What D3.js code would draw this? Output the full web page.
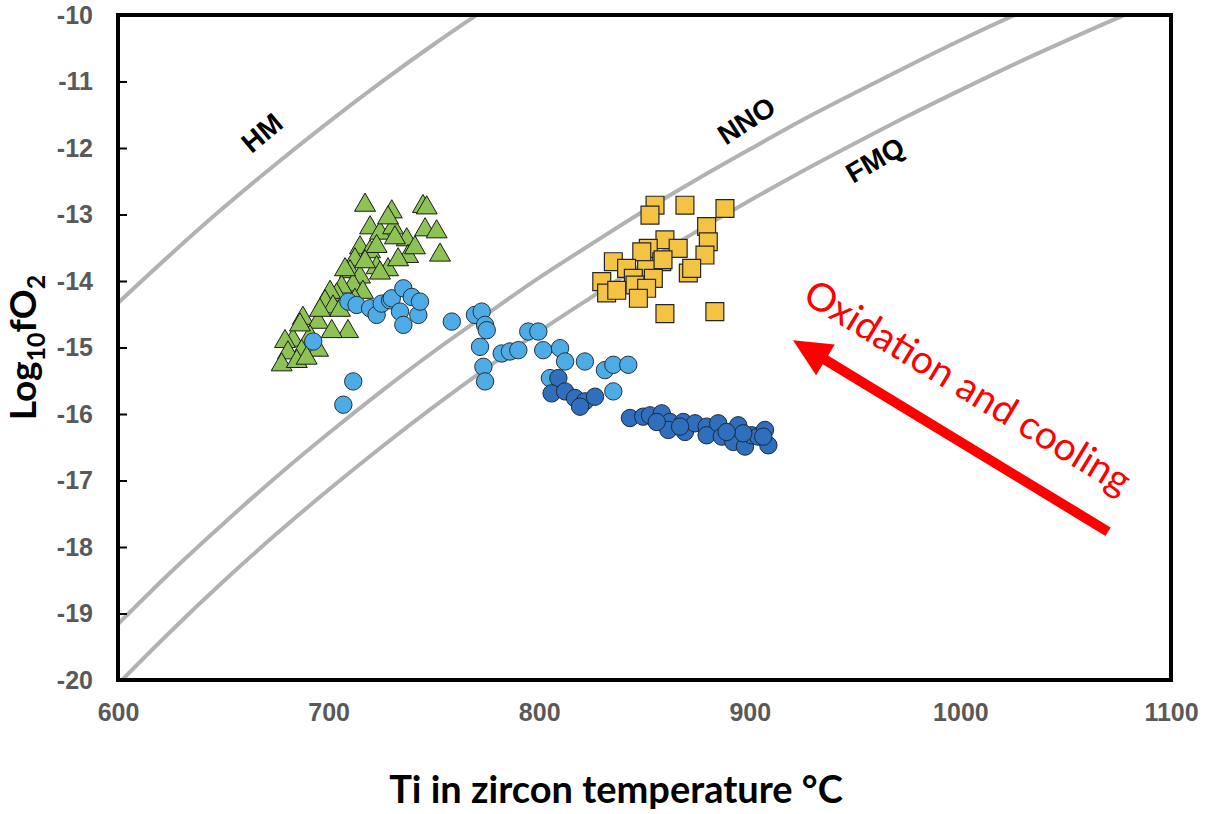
<!DOCTYPE html>
<html>
<head>
<meta charset="utf-8">
<script src="https://cdn.jsdelivr.net/npm/d3@7"></script>
<style>
  body { margin: 0; background: #fff; }
  svg { display: block; }
</style>
</head>
<body>
<div id="chart"></div>
<script>
// buffer curves, log fO2 vs temperature
const bufferT = [600, 625, 650, 675, 700, 725, 750, 775, 800, 825, 850, 875, 900, 925, 950, 975, 1000, 1025, 1050, 1075, 1100];
const fmq = [-20.06, -19.27, -18.52, -17.81, -17.14, -16.50, -15.89, -15.31, -14.76, -14.24, -13.73, -13.25, -12.79, -12.35, -11.93, -11.52, -11.13, -10.75, -10.39, -10.04, -9.71];
const nno = [-19.16, -18.38, -17.65, -16.95, -16.29, -15.66, -15.06, -14.50, -13.95, -13.44, -12.94, -12.47, -12.02, -11.58, -11.17, -10.77, -10.38, -10.01, -9.66, -9.33, -9.01];
const hmT = [600, 625, 650, 675, 700, 725, 750, 775, 800];
const hm = [-14.33, -13.60, -12.90, -12.24, -11.61, -11.01, -10.44, -9.90, -9.38];

// green triangles
const triangles = [
  [717.3, -12.86], [730.0, -12.96], [744.8, -12.88], [746.6, -12.90], [719.7, -13.20],
  [724.4, -13.28], [730.6, -13.20], [728.2, -13.05], [745.8, -13.23], [751.3, -13.26],
  [737.1, -13.38], [731.5, -13.35], [714.9, -13.50], [719.7, -13.56], [722.8, -13.48],
  [737.7, -13.63], [752.9, -13.61], [712.5, -13.68], [722.8, -13.80], [728.2, -13.83],
  [724.4, -13.88], [710.2, -13.86], [714.9, -13.94], [711.6, -14.06], [706.2, -14.09],
  [716.3, -14.17], [703.8, -14.21], [700.7, -14.17], [698.3, -14.31], [702.1, -14.39],
  [705.4, -14.44], [687.8, -14.56], [695.0, -14.62], [709.2, -14.76], [701.5, -14.76],
  [683.1, -14.89], [691.2, -14.84], [679.3, -14.91], [695.0, -15.04], [687.2, -15.06],
  [680.7, -15.08], [677.7, -15.26], [684.9, -15.21], [689.6, -15.16], [707.8, -13.83],
  [717.3, -13.71], [695.9, -14.44], [686.4, -14.66], [712.5, -14.29], [733.0, -13.68],
  [741.0, -13.50]
];

// light blue circles
const lightCircles = [
  [709.4, -14.31], [713.3, -14.36], [719.7, -14.41], [722.8, -14.51], [725.2, -14.34],
  [729.2, -14.29], [730.0, -14.26], [735.5, -14.11], [739.5, -14.24], [733.9, -14.46],
  [735.5, -14.66], [742.6, -14.51], [743.4, -14.31], [692.7, -14.91], [711.7, -15.51],
  [707.0, -15.86], [758.5, -14.61], [769.5, -14.51], [772.7, -14.46], [774.3, -14.66],
  [775.1, -14.74], [771.9, -14.99], [773.5, -15.29], [774.3, -15.51], [782.2, -15.09],
  [786.1, -15.06], [790.1, -15.04], [794.8, -14.76], [799.6, -14.76], [801.9, -15.04],
  [809.9, -15.01], [812.3, -15.21], [821.7, -15.21], [831.2, -15.34], [835.2, -15.26],
  [842.3, -15.26], [835.2, -15.66], [805.1, -15.46]
];

// dark blue circles
const darkCircles = [
  [809.1, -15.46], [805.9, -15.69], [812.3, -15.66], [817.0, -15.76], [821.7, -15.81],
  [826.5, -15.74], [819.4, -15.89], [843.1, -16.06], [849.4, -16.04], [852.6, -16.02],
  [858.2, -15.99], [862.1, -16.12], [861.3, -16.24], [868.4, -16.12], [869.2, -16.27],
  [874.0, -16.14], [879.5, -16.19], [879.5, -16.32], [885.0, -16.14], [886.7, -16.34],
  [892.2, -16.42], [894.5, -16.17], [897.7, -16.49], [900.9, -16.32], [904.0, -16.34],
  [907.2, -16.24], [908.8, -16.47], [906.4, -16.34], [896.9, -16.29], [889.0, -16.27],
  [866.9, -16.19], [855.8, -16.12]
];

// yellow squares
const squares = [
  [855.0, -12.86], [852.6, -13.01], [869.2, -12.86], [888.2, -12.91], [879.5, -13.18],
  [880.3, -13.41], [859.7, -13.38], [851.8, -13.51], [866.0, -13.51], [848.7, -13.56],
  [858.2, -13.71], [878.7, -13.61], [870.8, -13.88], [835.2, -13.71], [841.5, -13.81],
  [851.0, -13.83], [844.7, -13.96], [854.2, -13.96], [829.7, -14.01], [832.0, -14.18],
  [845.5, -14.06], [851.0, -14.11], [847.1, -14.26], [836.8, -14.14], [859.7, -14.49],
  [883.4, -14.46], [858.8, -13.68], [872.4, -13.81]
];

const xTicks = [600, 700, 800, 900, 1000, 1100];
const yTicks = [-20, -19, -18, -17, -16, -15, -14, -13, -12, -11, -10];

// arrow: tail -> tip, in data units
const arrowTail = [1070.1, -17.77];
const arrowTip = [920.5, -14.89];

const width = 1216, height = 814;
const margin = { top: 15, right: 45, bottom: 134, left: 118 };

const svg = d3.select('#chart').append('svg')
  .attr('width', width)
  .attr('height', height)
  .attr('font-family', '"Liberation Sans", Arial, sans-serif');

const x = d3.scaleLinear().domain([600, 1100]).range([margin.left, width - margin.right]);
const y = d3.scaleLinear().domain([-20, -10]).range([height - margin.bottom, margin.top]);

svg.append('clipPath').attr('id', 'plot-clip')
  .append('rect')
  .attr('x', x(600)).attr('y', y(-10))
  .attr('width', x(1100) - x(600)).attr('height', y(-20) - y(-10));

// buffer lines
const line = d3.line()
  .x(d => x(d[0]))
  .y(d => y(d[1]))
  .curve(d3.curveMonotoneX);

const curves = svg.append('g').attr('clip-path', 'url(#plot-clip)');
[
  bufferT.map((t, i) => [t, fmq[i]]),
  bufferT.map((t, i) => [t, nno[i]]),
  hmT.map((t, i) => [t, hm[i]])
].forEach(pts => {
  curves.append('path')
    .attr('d', line(pts))
    .attr('fill', 'none')
    .attr('stroke', '#b2b2b2')
    .attr('stroke-width', 4);
});

// buffer labels
const bufferLabels = [
  { text: 'HM', t: 669, v: -11.8, angle: -40 },
  { text: 'NNO', t: 899, v: -11.62, angle: -33 },
  { text: 'FMQ', t: 960, v: -12.21, angle: -30 }
];
svg.append('g').selectAll('text')
  .data(bufferLabels)
  .enter().append('text')
  .attr('transform', d => `translate(${x(d.t)},${y(d.v)}) rotate(${d.angle})`)
  .attr('text-anchor', 'middle')
  .attr('dominant-baseline', 'middle')
  .attr('font-size', 28)
  .attr('font-weight', 'bold')
  .attr('fill', '#000')
  .text(d => d.text);

// markers
const marks = svg.append('g').attr('clip-path', 'url(#plot-clip)');

marks.selectAll('path.tri')
  .data(triangles)
  .enter().append('path')
  .attr('class', 'tri')
  .attr('d', d3.symbol().type(d3.symbolTriangle).size(190))
  .attr('transform', d => `translate(${x(d[0])},${y(d[1])})`)
  .attr('fill', '#8dc353')
  .attr('stroke', '#1a1a1a')
  .attr('stroke-width', 1);

marks.selectAll('circle.light')
  .data(lightCircles)
  .enter().append('circle')
  .attr('class', 'light')
  .attr('cx', d => x(d[0]))
  .attr('cy', d => y(d[1]))
  .attr('r', 8.7)
  .attr('fill', '#4dabe6')
  .attr('stroke', '#263238')
  .attr('stroke-width', 1);

marks.selectAll('circle.dark')
  .data(darkCircles)
  .enter().append('circle')
  .attr('class', 'dark')
  .attr('cx', d => x(d[0]))
  .attr('cy', d => y(d[1]))
  .attr('r', 8.7)
  .attr('fill', '#2f6fbd')
  .attr('stroke', '#1b2a3a')
  .attr('stroke-width', 1);

marks.selectAll('path.sq')
  .data(squares)
  .enter().append('path')
  .attr('class', 'sq')
  .attr('d', d3.symbol().type(d3.symbolSquare).size(320))
  .attr('transform', d => `translate(${x(d[0])},${y(d[1])})`)
  .attr('fill', '#f5c343')
  .attr('stroke', '#262626')
  .attr('stroke-width', 1.2);

// frame
svg.append('rect')
  .attr('x', x(600)).attr('y', y(-10))
  .attr('width', x(1100) - x(600)).attr('height', y(-20) - y(-10))
  .attr('fill', 'none')
  .attr('stroke', '#000')
  .attr('stroke-width', 4);

// axes
const yAxis = svg.append('g')
  .attr('transform', `translate(${x(600)},0)`)
  .call(d3.axisLeft(y).tickValues(yTicks).tickSizeInner(-9).tickSizeOuter(0).tickPadding(25).tickFormat(d => String(d)));
yAxis.select('.domain').remove();
yAxis.selectAll('line').attr('stroke', '#000').attr('stroke-width', 2);
yAxis.selectAll('text')
  .attr('font-size', 25).attr('font-weight', 'bold').attr('fill', '#595959')
  .attr('font-family', '"Liberation Sans", Arial, sans-serif');

const xAxis = svg.append('g')
  .attr('transform', `translate(0,${y(-20)})`)
  .call(d3.axisBottom(x).tickValues(xTicks).tickSize(0).tickPadding(23).tickFormat(d => String(d)));
xAxis.select('.domain').remove();
xAxis.selectAll('text')
  .attr('font-size', 25).attr('font-weight', 'bold').attr('fill', '#595959')
  .attr('font-family', '"Liberation Sans", Arial, sans-serif');

// axis titles
svg.append('text')
  .attr('x', 616)
  .attr('y', 803)
  .attr('text-anchor', 'middle')
  .attr('font-family', 'Lato, "Open Sans", sans-serif')
  .attr('font-size', 38)
  .attr('font-weight', 'bold')
  .attr('fill', '#000')
  .text('Ti in zircon temperature °C');

const yTitle = svg.append('text')
  .attr('transform', `translate(36,${(y(-10) + y(-20)) / 2}) rotate(-90)`)
  .attr('text-anchor', 'middle')
  .attr('font-family', 'Lato, "Open Sans", sans-serif')
  .attr('font-size', 37)
  .attr('font-weight', 'bold')
  .attr('fill', '#000');
yTitle.append('tspan').text('Log');
yTitle.append('tspan').attr('font-size', 25).attr('dy', 9).text('10');
yTitle.append('tspan').attr('dy', -9).text('fO');
yTitle.append('tspan').attr('font-size', 25).attr('dy', 9).text('2');

// red arrow
const tail = [x(arrowTail[0]), y(arrowTail[1])];
const tip = [x(arrowTip[0]), y(arrowTip[1])];
const dx = tip[0] - tail[0], dy = tip[1] - tail[1];
const len = Math.sqrt(dx * dx + dy * dy);
const ux = dx / len, uy = dy / len;
const headLen = 38, headHalf = 18;
const base = [tip[0] - ux * headLen, tip[1] - uy * headLen];
svg.append('line')
  .attr('x1', tail[0]).attr('y1', tail[1])
  .attr('x2', base[0] + ux * 2).attr('y2', base[1] + uy * 2)
  .attr('stroke', '#ff0000')
  .attr('stroke-width', 10);
svg.append('path')
  .attr('d', `M${tip[0]},${tip[1]}L${base[0] - uy * headHalf},${base[1] + ux * headHalf}L${base[0] + uy * headHalf},${base[1] - ux * headHalf}Z`)
  .attr('fill', '#ff0000');

const angle = Math.atan2(-dy, -dx) * 180 / Math.PI;
svg.append('text')
  .attr('transform', `translate(966,390) rotate(${angle})`)
  .attr('text-anchor', 'middle')
  .attr('dominant-baseline', 'middle')
  .attr('font-family', 'Lato, "Open Sans", sans-serif')
  .attr('font-size', 39)
  .attr('fill', '#ff0000')
  .text('Oxidation and cooling');
</script>
</body>
</html>
